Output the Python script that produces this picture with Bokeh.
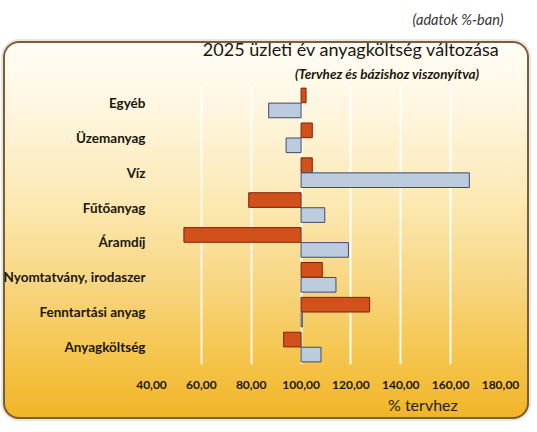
from bokeh.plotting import figure
from bokeh.models import (ColumnDataSource, Range1d, FixedTicker, CustomJSTickFormatter, Title,
                          InlineStyleSheet)
from bokeh.layouts import column
from bokeh.transform import dodge
from bokeh.embed import file_html
from bokeh.resources import INLINE

# ---- data ----
categories = ["Egyéb", "Üzemanyag", "Víz", "Fűtőanyag", "Áramdíj",
              "Nyomtatvány, irodaszer", "Fenntartási anyag", "Anyagköltség"]
terv = [102.0, 104.5, 104.5, 79.0, 53.0, 108.5, 127.5, 93.0]
bazis = [87.0, 94.0, 167.5, 109.5, 119.0, 114.0, 100.5, 108.0]
x_ticks = [40, 60, 80, 100, 120, 140, 160, 180]
base_value = 100
series_labels = ["% tervhez", "% bázishoz"]

title_text = "2025 üzleti év anyagköltség változása"
subtitle_text = "(Tervhez és bázishoz viszonyítva)"
note_text = "(adatok %-ban)"

FONT = "Lato"
TERV_FILL, TERV_LINE = "#D2501A", "#7A230A"
BAZIS_FILL, BAZIS_LINE = "#BCCBDD", "#3E4C6A"

src = ColumnDataSource(dict(cat=categories, terv=terv, bazis=bazis))

p = figure(width=521, height=392, output_backend="svg", toolbar_location=None,
           y_range=list(reversed(categories)), x_range=Range1d(40, 180),
           min_border_left=151, min_border_right=21, min_border_bottom=28,
           min_border_top=84)
p.border_fill_color = None
p.background_fill_color = None
p.outline_line_color = None

p.hbar(y=dodge("cat", 0.215, range=p.y_range), left=base_value, right="terv",
       height=0.42, source=src, fill_color=TERV_FILL, line_color=TERV_LINE, line_width=1)
p.hbar(y=dodge("cat", -0.215, range=p.y_range), left=base_value, right="bazis",
       height=0.42, source=src, fill_color=BAZIS_FILL, line_color=BAZIS_LINE, line_width=1)

# axes
p.xaxis.ticker = FixedTicker(ticks=x_ticks)
p.xaxis.formatter = CustomJSTickFormatter(code="return tick.toFixed(2).replace('.', ',');")
for ax in (p.xaxis[0], p.yaxis[0]):
    ax.axis_line_color = None
    ax.major_tick_line_color = None
    ax.minor_tick_line_color = None
    ax.major_tick_out = 0
    ax.major_tick_in = 0
    ax.major_label_text_font = FONT
    ax.major_label_text_font_style = "bold"
    ax.major_label_text_color = "#1A160C"
p.xaxis.major_label_text_font_size = "12px"
p.xaxis.major_label_standoff = 16
p.yaxis.major_label_text_font_size = "13.5px"
p.yaxis.major_label_standoff = 6

p.xgrid.grid_line_color = "white"
p.xgrid.grid_line_width = 2
p.xgrid.grid_line_alpha = 0.9
p.ygrid.grid_line_color = None

# titles
p.add_layout(Title(text=subtitle_text, align="right", text_font=FONT, text_font_size="13.5px",
                   text_font_style="bold italic", text_color="#1A160C", offset=21,
                   standoff=8), "above")
p.add_layout(Title(text=title_text, align="right", text_font=FONT, text_font_size="18px",
                   text_font_style="normal", text_color="#1A160C", offset=1,
                   standoff=0), "above")
p.add_layout(Title(text=note_text, align="right", text_font=FONT, text_font_size="14.5px",
                   text_font_style="italic", text_color="#333", offset=-3,
                   standoff=16), "above")

# legend strip (separate small figure below the chart)
lf = figure(width=521, height=24, output_backend="svg", toolbar_location=None,
            x_range=Range1d(0, 1), y_range=Range1d(0, 1),
            x_axis_type=None, y_axis_type=None,
            min_border_left=0, min_border_right=0, min_border_top=0, min_border_bottom=0)
lf.border_fill_color = None
lf.background_fill_color = None
lf.outline_line_color = None
lf.xgrid.grid_line_color = None
lf.ygrid.grid_line_color = None
lf.hbar(y=[], left=[], right=[], height=0.5, fill_color=TERV_FILL, line_color=TERV_LINE,
        legend_label=series_labels[0])
lf.hbar(y=[], left=[], right=[], height=0.5, fill_color=BAZIS_FILL, line_color=BAZIS_LINE,
        legend_label=series_labels[1])
leg = lf.legend[0]
leg.orientation = "horizontal"
leg.location = (224, 2)
leg.background_fill_color = None
leg.border_line_color = None
leg.label_text_font = FONT
leg.label_text_font_size = "16px"
leg.label_text_color = "#222"
leg.label_height = 16
leg.glyph_width = 8
leg.glyph_height = 12
leg.spacing = 65
leg.padding = 0
leg.margin = 0

css = """
:host { position: relative; z-index: 0; }
:host::before {
  content: ""; position: absolute; left: 3px; right: -8px; top: 41px; height: 378px;
  border-radius: 16px;
  background: linear-gradient(to bottom, #FFFDF6 0%, #FEF6E0 18%, #FCE9B4 42%, #F8D887 62%, #F5C650 82%, #F1B526 100%);
  box-shadow: inset 0 0 0 2px #7d5d33, 0 0 0 2px #e9e6e0;
  z-index: -1;
}
"""
layout = column(p, lf, spacing=0, stylesheets=[InlineStyleSheet(css=css)])

open("out.html", "w").write(file_html(layout, INLINE))
